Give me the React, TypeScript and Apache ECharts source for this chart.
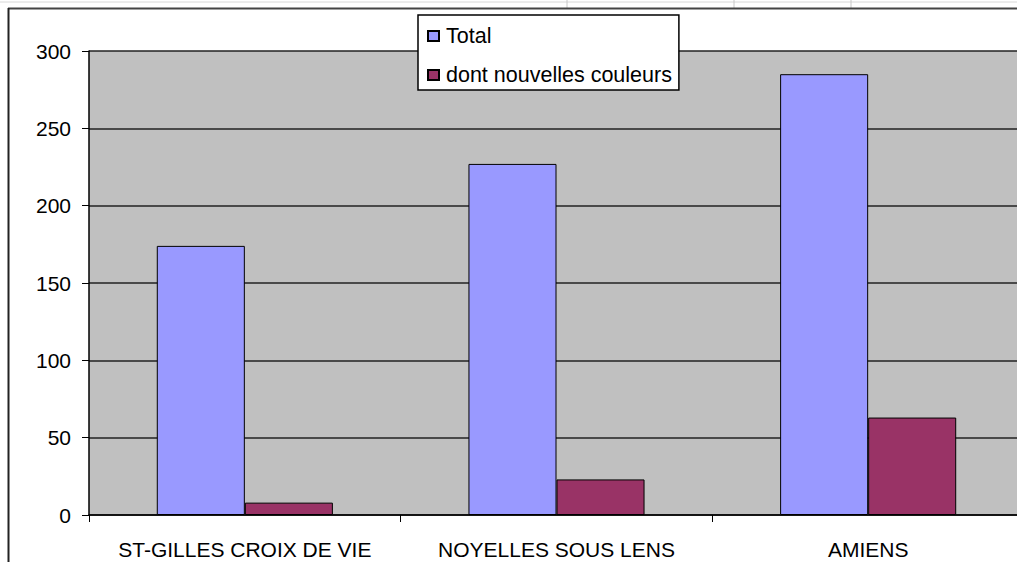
import React, { useEffect, useRef } from "react";
import * as echarts from "echarts";

const categories = ["ST-GILLES CROIX DE VIE", "NOYELLES SOUS LENS", "AMIENS"];
const totalValues = [174, 227, 285];
const nouvellesValues = [8, 23, 63];
const seriesNames = ["Total", "dont nouvelles couleurs"];
const yTicks = { min: 0, max: 300, interval: 50 };

const FONT = "'Liberation Sans', Arial, sans-serif";

export default function App() {
  const ref = useRef<HTMLDivElement>(null);
  useEffect(() => {
    if (!ref.current) return;
    const chart = echarts.init(ref.current, null, { renderer: "svg" });
    chart.setOption({
      animation: false,
      backgroundColor: "#ffffff",
      textStyle: { fontFamily: FONT },
      grid: {
        left: 89,
        top: 51,
        right: 0,
        bottom: 47,
        show: true,
        backgroundColor: "#C0C0C0",
        borderWidth: 0,
      },
      legend: {
        data: seriesNames,
        orient: "vertical",
        left: 418,
        top: 15,
        backgroundColor: "#ffffff",
        borderColor: "#000000",
        borderWidth: 1.5,
        borderRadius: 0,
        padding: [10, 7, 4, 9],
        itemGap: 17,
        itemWidth: 11,
        itemHeight: 10,
        icon: "rect",
        textStyle: { fontSize: 21.5, color: "#000", fontFamily: FONT, padding: [0, 0, 0, 2] },
      },
      xAxis: {
        type: "category",
        data: categories,
        boundaryGap: true,
        axisLine: { show: true, lineStyle: { color: "#000", width: 1.5 } },
        axisTick: { show: true, length: 7, lineStyle: { color: "#000", width: 1 } },
        axisLabel: { fontSize: 21, color: "#000", margin: 24, fontFamily: FONT, interval: 0 },
      },
      yAxis: {
        type: "value",
        min: yTicks.min,
        max: yTicks.max,
        interval: yTicks.interval,
        axisLine: { show: true, lineStyle: { color: "#000", width: 1.5 } },
        axisTick: { show: true, length: 7, lineStyle: { color: "#000", width: 1 } },
        axisLabel: { fontSize: 21, color: "#000", margin: 18, fontFamily: FONT },
        splitLine: { show: true, lineStyle: { color: "#222", width: 1.5 } },
      },
      series: [
        {
          name: seriesNames[0],
          type: "bar",
          data: totalValues,
          barGap: "0%",
          barCategoryGap: "43.5%",
          itemStyle: { color: "#9999FF", borderColor: "#000", borderWidth: 1 },
        },
        {
          name: seriesNames[1],
          type: "bar",
          data: nouvellesValues,
          barGap: "0%",
          barCategoryGap: "43.5%",
          itemStyle: { color: "#993366", borderColor: "#000", borderWidth: 1 },
        },
      ],
      graphic: [
        { type: "line", shape: { x1: 0, y1: 2, x2: 1024, y2: 2 }, style: { stroke: "#d8d8d8", lineWidth: 1 }, silent: true },
        { type: "line", shape: { x1: 567, y1: 0, x2: 567, y2: 8 }, style: { stroke: "#c8c8c8", lineWidth: 1 }, silent: true },
        { type: "line", shape: { x1: 734, y1: 0, x2: 734, y2: 8 }, style: { stroke: "#c8c8c8", lineWidth: 1 }, silent: true },
        { type: "line", shape: { x1: 851, y1: 0, x2: 851, y2: 8 }, style: { stroke: "#c8c8c8", lineWidth: 1 }, silent: true },
        { type: "line", shape: { x1: 8, y1: 8.5, x2: 1024, y2: 8.5 }, style: { stroke: "#444", lineWidth: 2 }, silent: true },
        { type: "line", shape: { x1: 8.5, y1: 8, x2: 8.5, y2: 562 }, style: { stroke: "#222", lineWidth: 2 }, silent: true },
      ],
    });
    return () => chart.dispose();
  }, []);
  return (
    <div
      style={{ position: "absolute", left: 0, top: 0, width: 1017, height: 562, overflow: "hidden", background: "#fff" }}
    >
      <div ref={ref} style={{ width: 1023.5, height: 562 }} />
    </div>
  );
}
